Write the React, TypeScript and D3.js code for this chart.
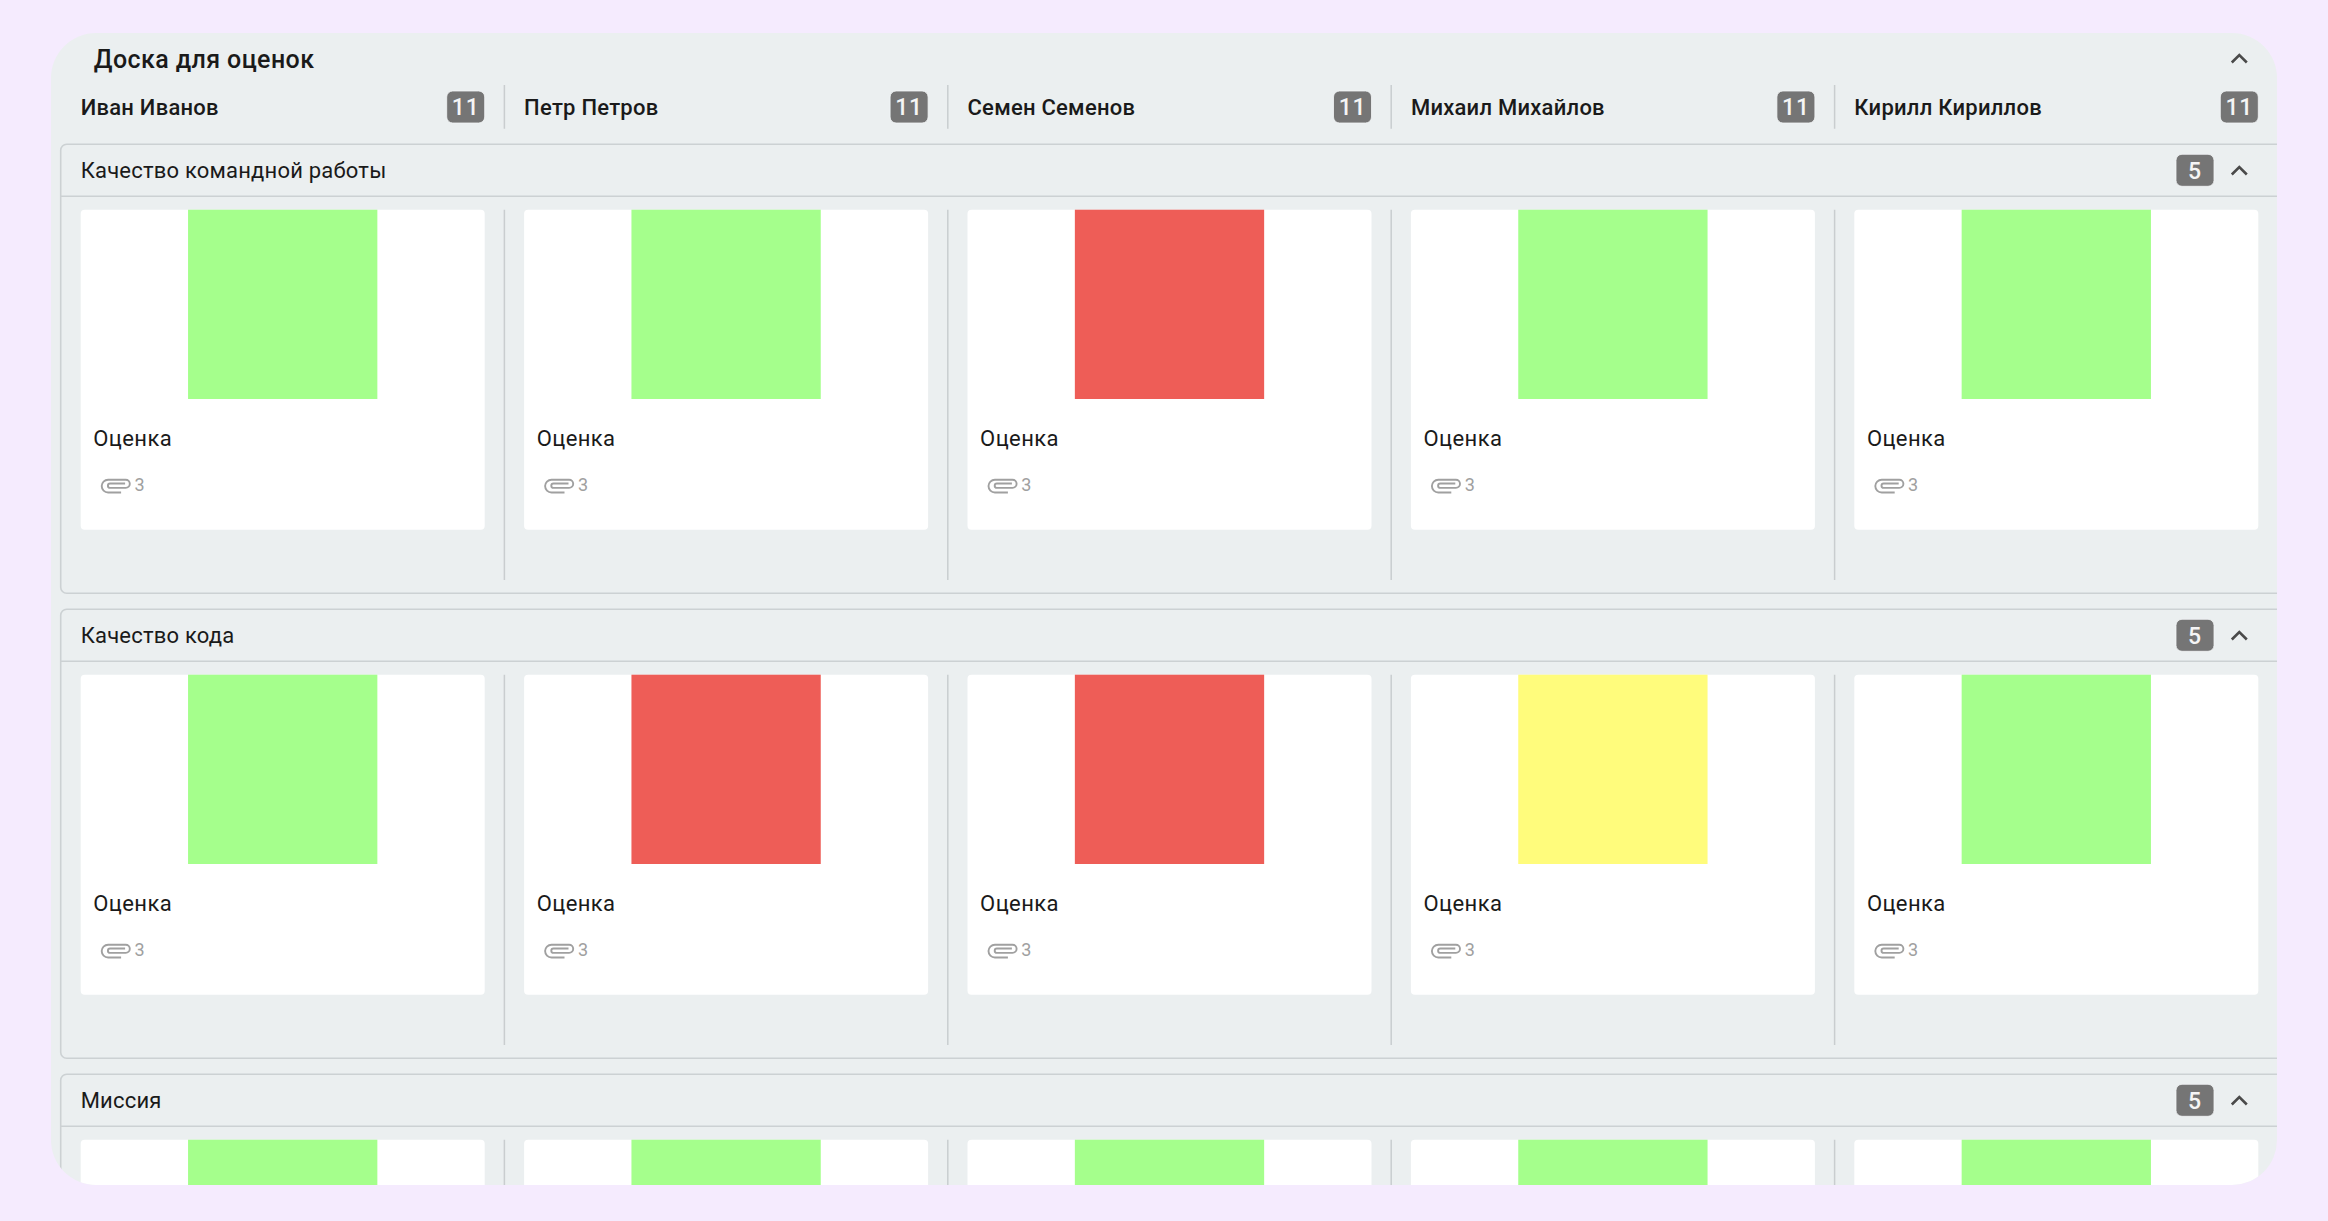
import * as d3 from 'd3'

const employees = ['Иван Иванов', 'Петр Петров', 'Семен Семенов', 'Михаил Михайлов', 'Кирилл Кириллов']
const employeeCounts = [11, 11, 11, 11, 11]
const sections = ['Качество командной работы', 'Качество кода', 'Миссия']
const sectionCounts = [5, 5, 5]
const teamworkScores = ['good', 'good', 'bad', 'good', 'good']
const codeScores = ['good', 'bad', 'bad', 'medium', 'good']
const missionScores = ['good', 'good', 'good', 'good', 'good']
const scoreRows = [teamworkScores, codeScores, missionScores]
const attachments = [3, 3, 3, 3, 3]
const scoreLevels = ['good', 'medium', 'bad']
const scoreColors = ['#a5ff8c', '#fffc7c', '#ee5d57']

const W = 2328
const H = 1221
const panel = { left: 51, right: 2277, top: 33, bottom: 1185 }
const cardW = 404
const step = 443.4
const cardH = 320
const squareSize = 189.3
const font = 'Roboto, sans-serif'

const x = d3
  .scaleBand<string>()
  .domain(employees)
  .range([80.7, 2258.3])
  .paddingInner(1 - cardW / step)

const y = d3
  .scaleBand<string>()
  .domain(sections)
  .range([144.3, 144.3 + 465 * 3])

const color = d3.scaleOrdinal<string, string>().domain(scoreLevels).range(scoreColors)

const chevron = d3.line()([
  [-7.5, 4],
  [0, -3.5],
  [7.5, 4],
]) as string

function Badge({ right, cy, width, value }: { right: number; cy: number; width: number; value: number }) {
  return (
    <g>
      <rect x={right - width} y={cy - 16} width={width} height={32} rx={6} fill="#757575" stroke="#f4f6f7" strokeWidth={0.8} />
      <text x={right - width / 2} y={cy + 8.3} textAnchor="middle" fontFamily={font} fontSize={23} fontWeight={500} fill="#f5f5f5" letterSpacing={0.8}>
        {value}
      </text>
    </g>
  )
}

function Clip({ px, py }: { px: number; py: number }) {
  return (
    <path
      transform={`translate(${px},${py})`}
      d="M20 13.6 H7 A6.4 6.4 0 0 1 7 0.8 H24.6 A4.1 4.1 0 0 1 24.6 9 H9 A2.2 2.2 0 0 1 9 4.6 H24"
      fill="none"
      stroke="#a0a0a0"
      strokeWidth={1.9}
    />
  )
}

export default function App() {
  return (
    <svg width={W} height={H} viewBox={`0 0 ${W} ${H}`} style={{ position: 'absolute', left: 0, top: 0 }} fontFamily={font}>
      <defs>
        <clipPath id="panel-clip">
          <rect x={panel.left} y={panel.top} width={panel.right - panel.left} height={panel.bottom - panel.top} rx={45} />
        </clipPath>
      </defs>
      <rect width={W} height={H} fill="#f5ebfe" />
      <g clipPath="url(#panel-clip)">
        <rect x={panel.left} y={panel.top} width={panel.right - panel.left} height={panel.bottom - panel.top} fill="#ebeff0" />

        <text x={93.8} y={67.7} fontSize={25} fontWeight={500} fill="#1a1a1a" letterSpacing={0.4}>
          Доска для оценок
        </text>
        <path d={chevron} transform="translate(2239.3,58.5)" fill="none" stroke="#4a4a4a" strokeWidth={2.6} />

        {employees.map((name, i) => {
          const left = x(name) as number
          return (
            <g key={name}>
              <text x={left} y={114.7} fontSize={22} fontWeight={500} fill="#1a1a1a" letterSpacing={0.25}>
                {name}
              </text>
              <Badge right={left + x.bandwidth()} cy={107} width={38} value={employeeCounts[i]} />
              {i < employees.length - 1 && (
                <line x1={left + cardW + 19.7} x2={left + cardW + 19.7} y1={85} y2={128.7} stroke="#c9cdcf" strokeWidth={1.5} />
              )}
            </g>
          )
        })}

        {sections.map((section, s) => {
          const top = y(section) as number
          // the last section runs past the bottom of the panel, its labels are not visible
          const labelsVisible = top + 301.7 < panel.bottom
          return (
            <g key={section}>
              <rect x={60.7} y={top} width={2240} height={449} rx={6} fill="none" stroke="#ccd1d3" strokeWidth={1.6} />
              <line x1={60.7} x2={panel.right} y1={top + 52} y2={top + 52} stroke="#ccd1d3" strokeWidth={1.6} />
              <text x={80.7} y={top + 33.4} fontSize={22} fill="#1a1a1a" letterSpacing={0.2}>
                {section}
              </text>
              <Badge right={2214} cy={top + 26} width={38} value={sectionCounts[s]} />
              <path d={chevron} transform={`translate(2239.3,${top + 26.2})`} fill="none" stroke="#4a4a4a" strokeWidth={2.6} />

              {employees.map((name, i) => {
                const left = x(name) as number
                const cardTop = top + 65.4
                return (
                  <g key={name}>
                    <rect x={left} y={cardTop} width={x.bandwidth()} height={cardH} rx={4} fill="#ffffff" />
                    <rect
                      x={left + (x.bandwidth() - squareSize) / 2}
                      y={cardTop}
                      width={squareSize}
                      height={squareSize}
                      fill={color(scoreRows[s][i])}
                    />
                    {labelsVisible && (
                      <g>
                        <text x={left + 12.6} y={top + 301.7} fontSize={22} fill="#1a1a1a" letterSpacing={0.4}>
                          Оценка
                        </text>
                        <Clip px={left + 20.4} py={top + 334.6} />
                        <text x={left + 53.8} y={top + 347} fontSize={18} fill="#a0a0a0">
                          {attachments[i]}
                        </text>
                      </g>
                    )}
                    {i < employees.length - 1 && (
                      <line
                        x1={left + cardW + 19.7}
                        x2={left + cardW + 19.7}
                        y1={cardTop}
                        y2={top + 435.7}
                        stroke="#c9cdcf"
                        strokeWidth={1.5}
                      />
                    )}
                  </g>
                )
              })}
            </g>
          )
        })}
      </g>
    </svg>
  )
}
